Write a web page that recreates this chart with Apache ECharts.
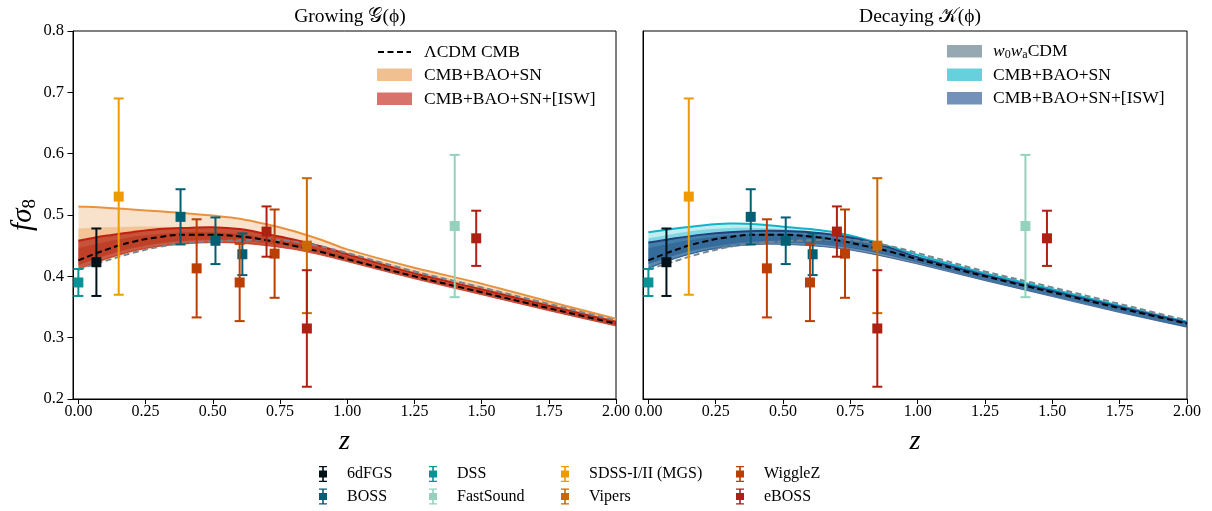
<!DOCTYPE html>
<html><head><meta charset="utf-8">
<script src="https://cdn.jsdelivr.net/npm/echarts@6/dist/echarts.min.js"></script>
<style>html,body{margin:0;padding:0;background:#fff}#c{width:1212px;height:511px}</style>
</head><body><div id="c"></div><script>
// ---------------- data ----------------
const Z = [0, 0.1, 0.2, 0.3, 0.4, 0.5, 0.6, 0.7, 0.8, 0.9, 1.0, 1.25, 1.5, 1.75, 2.0];
const lcdm = [0.426, 0.443, 0.456, 0.464, 0.468, 0.468, 0.465, 0.459, 0.450, 0.440, 0.428, 0.400, 0.374, 0.348, 0.323];
const w0wa = [0.411, 0.425, 0.438, 0.448, 0.454, 0.457, 0.459, 0.460, 0.457, 0.449, 0.438, 0.408, 0.382, 0.355, 0.328];

const growOrangeHi95 = [0.514, 0.512, 0.509, 0.506, 0.503, 0.499, 0.494, 0.485, 0.474, 0.460, 0.444, 0.414, 0.388, 0.359, 0.331];
const growOrangeLo95 = [0.411, 0.427, 0.440, 0.449, 0.454, 0.456, 0.455, 0.452, 0.446, 0.437, 0.426, 0.398, 0.372, 0.346, 0.321];
const growOrangeHi68 = [0.478, 0.480, 0.481, 0.481, 0.480, 0.478, 0.475, 0.469, 0.461, 0.451, 0.439, 0.410, 0.384, 0.356, 0.329];
const growOrangeLo68 = [0.418, 0.433, 0.445, 0.453, 0.458, 0.460, 0.459, 0.456, 0.450, 0.441, 0.430, 0.402, 0.376, 0.350, 0.324];
const growRedHi95 = [0.458, 0.466, 0.472, 0.477, 0.479, 0.480, 0.477, 0.469, 0.460, 0.449, 0.436, 0.405, 0.379, 0.352, 0.326];
const growRedLo95 = [0.412, 0.428, 0.441, 0.449, 0.453, 0.455, 0.454, 0.450, 0.444, 0.435, 0.424, 0.396, 0.370, 0.344, 0.319];
const growRedHi68 = [0.446, 0.456, 0.464, 0.469, 0.472, 0.472, 0.469, 0.463, 0.455, 0.445, 0.432, 0.402, 0.376, 0.349, 0.324];
const growRedLo68 = [0.418, 0.434, 0.446, 0.454, 0.458, 0.460, 0.458, 0.454, 0.448, 0.439, 0.427, 0.399, 0.373, 0.346, 0.321];

const decCyanHi95 = [0.472, 0.478, 0.483, 0.486, 0.485, 0.481, 0.477, 0.471, 0.461, 0.448, 0.435, 0.405, 0.379, 0.352, 0.326];
const decCyanLo95 = [0.414, 0.430, 0.442, 0.450, 0.454, 0.455, 0.454, 0.450, 0.443, 0.434, 0.423, 0.395, 0.369, 0.343, 0.318];
const decCyanHi68 = [0.462, 0.470, 0.476, 0.479, 0.479, 0.477, 0.473, 0.467, 0.458, 0.446, 0.432, 0.403, 0.377, 0.351, 0.325];
const decCyanLo68 = [0.420, 0.435, 0.446, 0.453, 0.457, 0.458, 0.457, 0.453, 0.446, 0.437, 0.426, 0.398, 0.372, 0.346, 0.321];
const decBlueHi95 = [0.455, 0.462, 0.468, 0.472, 0.474, 0.474, 0.472, 0.467, 0.459, 0.446, 0.431, 0.402, 0.376, 0.350, 0.3245];
const decBlueLo95 = [0.413, 0.429, 0.441, 0.448, 0.452, 0.452, 0.450, 0.446, 0.439, 0.430, 0.420, 0.393, 0.367, 0.341, 0.317];
const decBlueHi68 = [0.446, 0.455, 0.462, 0.467, 0.469, 0.469, 0.467, 0.462, 0.455, 0.443, 0.428, 0.399, 0.373, 0.347, 0.322];
const decBlueLo68 = [0.420, 0.434, 0.445, 0.452, 0.456, 0.456, 0.454, 0.450, 0.443, 0.434, 0.423, 0.396, 0.370, 0.344, 0.319];

const surveyNames = ['6dFGS', 'BOSS', 'DSS', 'FastSound', 'SDSS-I/II (MGS)', 'Vipers', 'WiggleZ', 'eBOSS'];
const surveyZ   = [[0.067], [0.38, 0.51, 0.61], [0.0], [1.40], [0.15], [0.85], [0.44, 0.60, 0.73], [0.70, 0.85, 1.48]];
const surveyFs8 = [[0.423], [0.497, 0.458, 0.436], [0.390], [0.482], [0.530], [0.450], [0.413, 0.390, 0.437], [0.473, 0.315, 0.462]];
const surveyErr = [[0.055], [0.045, 0.038, 0.034], [0.022], [0.116], [0.160], [0.110], [0.080, 0.063, 0.072], [0.041, 0.095, 0.045]];

const xTicks = [0, 0.25, 0.5, 0.75, 1.0, 1.25, 1.5, 1.75, 2.0];
const yTicks = [0.2, 0.3, 0.4, 0.5, 0.6, 0.7, 0.8];

// ---------------- style ----------------
const SERIF = '"Liberation Serif", "DejaVu Serif", serif';
const surveyColors = ['#001219', '#005f73', '#0a9396', '#94d2bd', '#ee9b00', '#ca6702', '#bb3e03', '#ae2012'];

function segs(P) {
  const n = P.length, m = [];
  for (let i = 0; i < n; i++) {
    const a = P[Math.max(i - 1, 0)], b = P[Math.min(i + 1, n - 1)];
    m.push((b[1] - a[1]) / (b[0] - a[0]));
  }
  let s = '';
  for (let i = 0; i < n - 1; i++) {
    const h = (P[i + 1][0] - P[i][0]) / 3;
    s += ' C' + (P[i][0] + h) + ',' + (P[i][1] + m[i] * h) + ' ' + (P[i + 1][0] - h) + ',' + (P[i + 1][1] - m[i + 1] * h) + ' ' + P[i + 1][0] + ',' + P[i + 1][1];
  }
  return s;
}
function curveD(P) { return 'M' + P[0][0] + ',' + P[0][1] + segs(P); }
function bandD(U, L) {
  const R = L.slice().reverse();
  return 'M' + U[0][0] + ',' + U[0][1] + segs(U) + ' L' + R[0][0] + ',' + R[0][1] + segs(R) + ' Z';
}

function bandSeries(xi, lo95, hi95, lo68, hi68, c95, c68, edge, zz) {
  return {
    type: 'custom', xAxisIndex: xi, yAxisIndex: xi, z: zz, silent: true,
    data: [[1, 0.5]],
    renderItem: function (params, api) {
      const P = arr => Z.map((z, i) => api.coord([z, arr[i]]));
      const U95 = P(hi95), L95 = P(lo95), U68 = P(hi68), L68 = P(lo68);
      return {
        type: 'group', children: [
          { type: 'path', shape: { pathData: bandD(U95, L95) }, style: { fill: c95, stroke: 'none' } },
          { type: 'path', shape: { pathData: bandD(U68, L68) }, style: { fill: c68, stroke: 'none' } },
          { type: 'path', shape: { pathData: curveD(L95) }, style: { fill: 'none', stroke: edge, lineWidth: 1, opacity: 0.7 } },
          { type: 'path', shape: { pathData: curveD(U95) }, style: { fill: 'none', stroke: edge, lineWidth: 2 } }
        ]
      };
    }
  };
}

function errRender(params, api) {
  const x = api.value(0), y = api.value(1), e = api.value(2);
  const p = api.coord([x, y]), t = api.coord([x, y + e]), b = api.coord([x, y - e]);
  const col = api.visual('color');
  const lw = 2, cw = 5, sq = 10;
  return {
    type: 'group', children: [
      { type: 'line', shape: { x1: p[0], y1: t[1], x2: p[0], y2: b[1] }, style: { stroke: col, lineWidth: lw } },
      { type: 'line', shape: { x1: p[0] - cw, y1: t[1], x2: p[0] + cw, y2: t[1] }, style: { stroke: col, lineWidth: lw } },
      { type: 'line', shape: { x1: p[0] - cw, y1: b[1], x2: p[0] + cw, y2: b[1] }, style: { stroke: col, lineWidth: lw } },
      { type: 'rect', shape: { x: p[0] - sq / 2, y: p[1] - sq / 2, width: sq, height: sq }, style: { fill: col } }
    ]
  };
}

const series = [];
// bands
series.push(bandSeries(0, growOrangeLo95, growOrangeHi95, growOrangeLo68, growOrangeHi68, 'rgba(230,140,50,0.25)', 'rgba(230,140,50,0.35)', '#e8923f', 1));
series.push(bandSeries(0, growRedLo95, growRedHi95, growRedLo68, growRedHi68, 'rgba(180,35,15,0.7)', 'rgba(180,35,15,0.4)', '#c0200e', 2));
series.push(bandSeries(1, decCyanLo95, decCyanHi95, decCyanLo68, decCyanHi68, 'rgba(10,180,205,0.25)', 'rgba(10,180,205,0.35)', '#12b2c8', 1));
series.push(bandSeries(1, decBlueLo95, decBlueHi95, decBlueLo68, decBlueHi68, 'rgba(25,70,130,0.6)', 'rgba(25,70,130,0.35)', '#22407e', 2));
// dashed model lines
[0, 1].forEach(g => {
  series.push({
    type: 'line', name: 'w0waCDM', xAxisIndex: g, yAxisIndex: g, z: 3, smooth: 0.4, symbol: 'none', silent: true,
    data: Z.map((z, i) => [z, w0wa[i]]),
    lineStyle: { color: '#74868f', width: 2, type: [6, 3.5] }
  });
  series.push({
    type: 'line', name: 'ΛCDM CMB', xAxisIndex: g, yAxisIndex: g, z: 4, smooth: 0.4, symbol: 'none', silent: true,
    data: Z.map((z, i) => [z, lcdm[i]]),
    lineStyle: { color: '#000000', width: 2, type: [6, 3.5] }
  });
});
// observations
surveyNames.forEach((nm, s) => {
  [0, 1].forEach(g => {
    series.push({
      type: 'custom', name: nm, xAxisIndex: g, yAxisIndex: g, z: 5 + s,
      itemStyle: { color: surveyColors[s] },
      encode: { x: 0, y: 1 },
      data: surveyZ[s].map((z, i) => [z, surveyFs8[s][i], surveyErr[s][i]]),
      renderItem: errRender
    });
  });
});

const errIcon = 'path://M0,0 H10 V1.6 H0 Z M4,0 H6 V20 H4 Z M0,5.5 H10 V14.5 H0 Z M0,18.4 H10 V20 H0 Z';
function colLegend(names, left) {
  return {
    data: names, orient: 'vertical', left: left, top: 466, padding: 0,
    itemWidth: 8, itemHeight: 18, itemGap: 6.5, icon: errIcon, selectedMode: false,
    textStyle: { fontFamily: SERIF, fontSize: 16, color: '#000', padding: [0, 0, 0, 15] }
  };
}

function xAxisCfg(g) {
  return {
    gridIndex: g, type: 'value', min: -0.02, max: 2.0,
    name: 'z', nameLocation: 'middle', nameGap: 29,
    nameTextStyle: { fontFamily: SERIF, fontStyle: 'italic', fontSize: 28, color: '#000' },
    axisLine: { show: true, onZero: false, lineStyle: { color: '#000', width: 1 } },
    axisTick: { show: true, length: 5, customValues: xTicks, lineStyle: { color: '#000', width: 1 } },
    axisLabel: { customValues: xTicks, formatter: v => v.toFixed(2), fontFamily: SERIF, fontSize: 16, color: '#000', margin: 5 },
    splitLine: { show: false }
  };
}
function yAxisCfg(g) {
  const base = {
    gridIndex: g, type: 'value', min: 0.2, max: 0.8, interval: 0.1,
    axisLine: { show: true, onZero: false, lineStyle: { color: '#000', width: 1 } },
    splitLine: { show: false }
  };
  if (g === 0) {
    base.axisTick = { show: true, length: 5.5, customValues: yTicks, lineStyle: { color: '#000', width: 1 } };
    base.axisLabel = { customValues: yTicks, formatter: v => v.toFixed(1), fontFamily: SERIF, fontSize: 16.5, color: '#000', margin: 9 };
    base.name = '{a|fσ}{b|8}';
    base.nameLocation = 'middle';
    base.nameGap = 28;
    base.nameRotate = 90;
    base.nameTextStyle = { rich: { a: { fontFamily: SERIF, fontStyle: 'italic', fontSize: 29, color: '#000' }, b: { fontFamily: SERIF, fontSize: 19, color: '#000', padding: [13, 0, 0, 0] } } };
  } else {
    base.axisTick = { show: false };
    base.axisLabel = { show: false };
  }
  return base;
}

const LF = 17.5;
const T = (txt, x, y, extra) => ({ type: 'text', x: x, y: y, silent: true, style: Object.assign({ text: txt, fontFamily: SERIF, fontSize: LF, fill: '#000', verticalAlign: 'middle' }, extra || {}) });
const R = (x, y, col) => ({ type: 'rect', silent: true, shape: { x: x, y: y, width: 35, height: 12.5 }, style: { fill: col } });

const option = {
  animation: false,
  backgroundColor: '#fff',
  title: [
    { text: 'Growing 𝒢(ϕ)', left: 345, top: 2, textAlign: 'center', textStyle: { fontFamily: SERIF, fontSize: 19.5, fontWeight: 'normal', color: '#000' } },
    { text: 'Decaying 𝒦(ϕ)', left: 915, top: 2, textAlign: 'center', textStyle: { fontFamily: SERIF, fontSize: 19.5, fontWeight: 'normal', color: '#000' } }
  ],
  grid: [
    { left: 73, top: 31, width: 543, height: 368, show: true, borderColor: '#000', borderWidth: 1, backgroundColor: 'transparent' },
    { left: 643, top: 31, width: 544, height: 368, show: true, borderColor: '#000', borderWidth: 1, backgroundColor: 'transparent' }
  ],
  xAxis: [xAxisCfg(0), xAxisCfg(1)],
  yAxis: [yAxisCfg(0), yAxisCfg(1)],
  legend: [
    colLegend(['6dFGS', 'BOSS'], 319),
    colLegend(['DSS', 'FastSound'], 429),
    colLegend(['SDSS-I/II (MGS)', 'Vipers'], 561),
    colLegend(['WiggleZ', 'eBOSS'], 736)
  ],
  graphic: [
    { type: 'line', silent: true, shape: { x1: 378, y1: 52, x2: 411, y2: 52 }, style: { stroke: '#000', lineWidth: 2, lineDash: [6, 3.5] } },
    T('ΛCDM CMB', 424, 52),
    R(377, 68.5, '#f0c091'),
    T('CMB+BAO+SN', 424, 75),
    R(377, 92.5, '#d7736a'),
    T('CMB+BAO+SN+[ISW]', 424, 99),
    R(947, 45, '#96a9b3'),
    T('{i|w}{s|0}{i|w}{s|a}{n|CDM}', 993, 51, { rich: { i: { fontFamily: SERIF, fontStyle: 'italic', fontSize: LF }, s: { fontFamily: SERIF, fontSize: 12, padding: [7, 0, 0, 0] }, n: { fontFamily: SERIF, fontSize: LF } } }),
    R(947, 68.5, '#66d0dd'),
    T('CMB+BAO+SN', 993, 75),
    R(947, 92, '#7391b9'),
    T('CMB+BAO+SN+[ISW]', 993, 98)
  ],
  series: series
};
const chart = echarts.init(document.getElementById('c'), null, { renderer: 'canvas' });
chart.setOption(option);
</script></body></html>
